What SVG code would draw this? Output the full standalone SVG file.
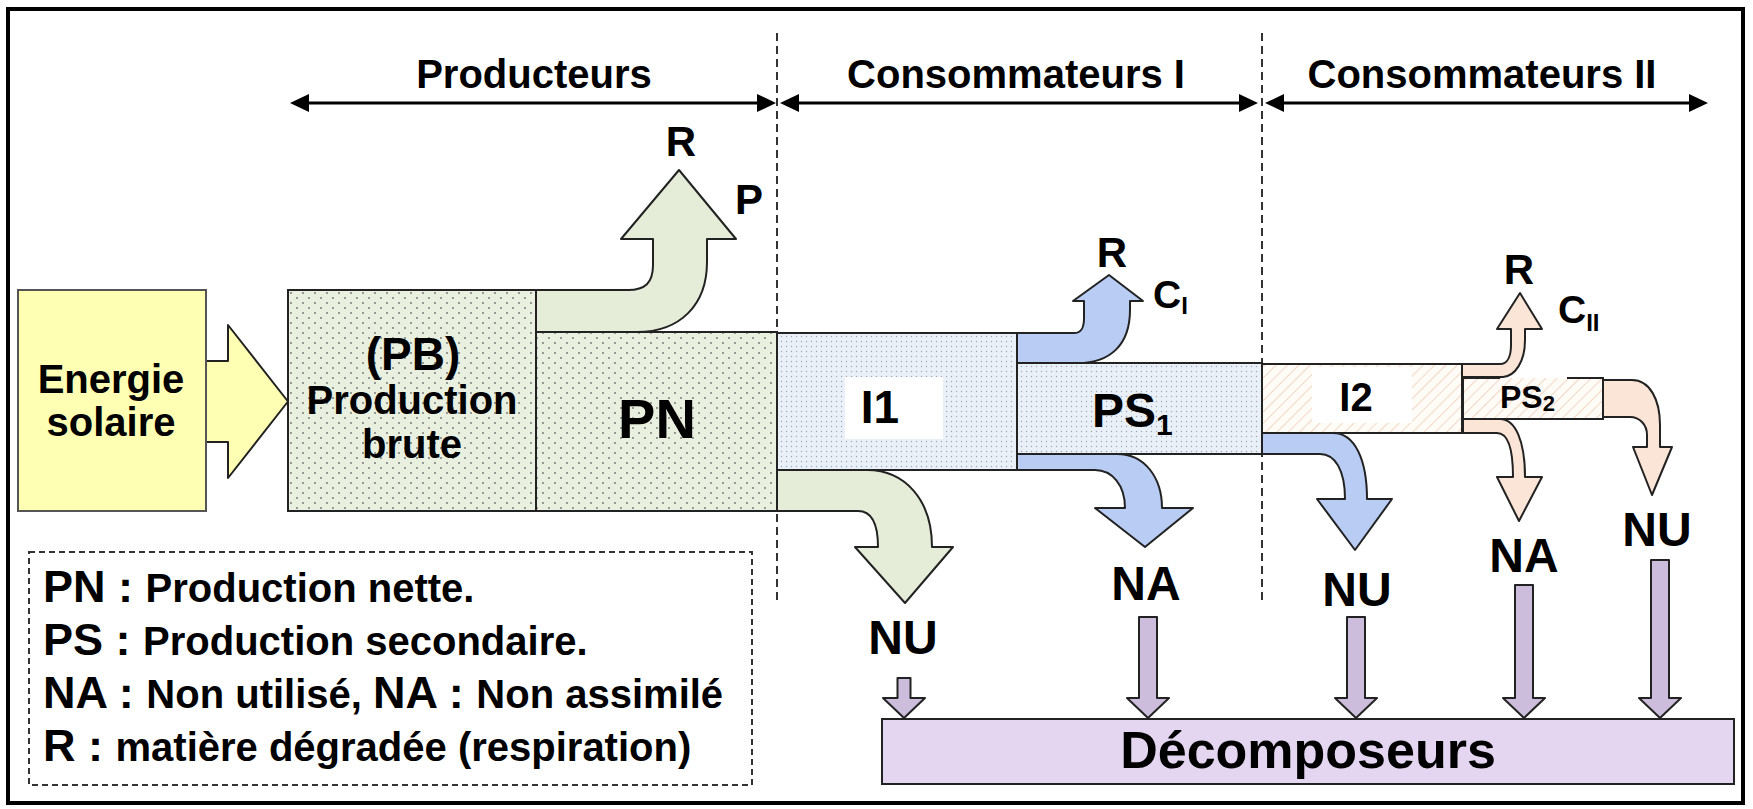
<svg xmlns="http://www.w3.org/2000/svg" width="1753" height="809" viewBox="0 0 1753 809">
<defs>
<pattern id="dotG" width="12" height="10" patternUnits="userSpaceOnUse">
<rect width="12" height="10" fill="#E9F0E0"/>
<circle cx="3" cy="3" r="0.9" fill="#6f6f6f"/>
<circle cx="9" cy="8" r="0.9" fill="#6f6f6f"/>
</pattern>
<pattern id="dotB" width="5" height="5" patternUnits="userSpaceOnUse">
<rect width="5" height="5" fill="#EAF0F8"/>
<circle cx="1.5" cy="1.5" r="0.7" fill="#9aa6b4"/>
</pattern>
<pattern id="hatch" width="8" height="8" patternUnits="userSpaceOnUse" patternTransform="rotate(45)">
<rect width="8" height="8" fill="#FFFBF7"/>
<line x1="0" y1="0" x2="0" y2="8" stroke="#F2D8C4" stroke-width="2"/>
</pattern>
</defs>
<style>
.t{font-family:"Liberation Sans",Arial,sans-serif;font-weight:bold;fill:#000}
.box{stroke:#222;stroke-width:2}
.ar{stroke:#222;stroke-width:2;stroke-linejoin:round}
.g{fill:#E5EDD8}
.b{fill:#B8CCF4}
.p{fill:#FBE5D6}
.v{fill:#CBBDDB}
.dash{stroke:#333;stroke-width:2;stroke-dasharray:8,5;fill:none}
</style>
<rect x="0" y="0" width="1753" height="809" fill="#fff"/>
<rect x="8" y="9" width="1735" height="794" fill="none" stroke="#000" stroke-width="4"/>

<g id="dividers">
<line class="dash" x1="777" y1="33" x2="777" y2="603"/>
<line class="dash" x1="1262" y1="33" x2="1262" y2="603"/>
</g>

<g id="headers">
<line x1="300" y1="103" x2="766" y2="103" stroke="#000" stroke-width="3"/>
<path d="M290,103 L309,94 L309,112 Z M776,103 L757,94 L757,112 Z" fill="#000"/>
<line x1="790" y1="103" x2="1248" y2="103" stroke="#000" stroke-width="3"/>
<path d="M780,103 L799,94 L799,112 Z M1258,103 L1239,94 L1239,112 Z" fill="#000"/>
<line x1="1275" y1="103" x2="1698" y2="103" stroke="#000" stroke-width="3"/>
<path d="M1265,103 L1284,94 L1284,112 Z M1708,103 L1689,94 L1689,112 Z" fill="#000"/>
<text class="t" x="534" y="88" font-size="40" text-anchor="middle">Producteurs</text>
<text class="t" x="1016" y="88" font-size="40" text-anchor="middle">Consommateurs I</text>
<text class="t" x="1482" y="88" font-size="40" text-anchor="middle">Consommateurs II</text>
</g>

<g id="connectors">
<path class="ar" fill="#FFFFB3" d="M206,361 H228 V325 L288,401.5 L228,478 V442 H206 Z"/>
<path class="ar g" d="M536,290 H628 C645,290 653,283 653,265 V239 H621 L679,170 L736,239 H707 V262 C707,305 680,332 637,332 H536 Z"/>
<path class="ar g" d="M777,470 H867 C905,470 932,500 932,547 H953 L905,603 L855,547 H878 C878,525 872,511 858,511 H777 Z"/>
<path class="ar b" d="M1017,333 H1074 C1082,333 1084,327 1084,318 V301 H1073 L1109,275 L1143,301 H1130 V310 C1130,345 1110,363 1078,363 H1017 Z"/>
<path class="ar b" d="M1017,454 H1117 C1145,454 1162,478 1162,508 H1193 L1145,547 L1095,508 H1125 C1125,485 1112,470 1095,470 H1017 Z"/>
<path class="ar b" d="M1262,433 H1333 C1355,433 1367,460 1367,499 H1392 L1355,550 L1317,499 H1345 C1345,470 1335,454 1320,454 H1262 Z"/>
<path class="ar p" d="M1463,419 H1500 C1515,419 1525,440 1525,477 H1542 L1519,521 L1497,477 H1513 C1513,448 1508,433 1497,433 H1463 Z"/>
<path class="ar p" d="M1603,380 H1632 C1650,380 1660,400 1660,425 V447 H1672 L1652,495 L1633,447 H1647 V435 C1647,425 1640,417 1630,417 H1603 Z"/>
<path class="ar v" d="M897.5,678 H910.5 V698 H925 L904,718 L883,698 H897.5 Z"/>
<path class="ar v" d="M1139,617 H1157 V698 H1169 L1148,718 L1127,698 H1139 Z"/>
<path class="ar v" d="M1347,617 H1365 V698 H1377 L1356,718 L1335,698 H1347 Z"/>
<path class="ar v" d="M1515,585 H1533 V698 H1545 L1524,718 L1503,698 H1515 Z"/>
<path class="ar v" d="M1651,560 H1669 V698 H1681 L1660,718 L1639,698 H1651 Z"/>
</g>

<g id="energie">
<rect x="18" y="290" width="188" height="221" fill="#FFFFB3" stroke="#555" stroke-width="2"/>
<text class="t" x="111" y="393" font-size="40" text-anchor="middle">Energie</text>
<text class="t" x="111" y="436" font-size="40" text-anchor="middle">solaire</text>
</g>

<g id="pb">
<rect class="box" x="288" y="290" width="248" height="221" fill="url(#dotG)"/>
<text class="t" x="413" y="370" font-size="46" text-anchor="middle">(PB)</text>
<text class="t" x="412" y="414" font-size="40" text-anchor="middle">Production</text>
<text class="t" x="412" y="458" font-size="40" text-anchor="middle">brute</text>
</g>

<g id="pn">
<rect class="box" x="536" y="332" width="241" height="179" fill="url(#dotG)"/>
<text class="t" x="657" y="438" font-size="56" text-anchor="middle">PN</text>
</g>

<g id="i1">
<rect class="box" x="777" y="333" width="240" height="137" fill="url(#dotB)"/>
<rect x="845" y="377" width="98" height="62" fill="#fff"/>
<text class="t" x="880" y="423" font-size="46" text-anchor="middle">I1</text>
</g>

<g id="ps1">
<rect class="box" x="1017" y="363" width="245" height="91" fill="url(#dotB)"/>
<text class="t" x="1092" y="427" font-size="48">PS<tspan font-size="30" dy="8">1</tspan></text>
</g>

<g id="i2">
<rect class="box" x="1262" y="364" width="200" height="69" fill="url(#hatch)"/>
<rect x="1312" y="367" width="100" height="56" fill="#fff"/>
<text class="t" x="1356" y="411" font-size="40" text-anchor="middle">I2</text>
</g>

<g id="ps2">
<rect x="1463" y="378" width="140" height="41" fill="url(#hatch)"/>
<path d="M1463,378 H1500 M1567,378 H1603 V419 H1463 V378" fill="none" stroke="#222" stroke-width="2"/>
<text class="t" x="1500" y="408" font-size="32">PS<tspan font-size="22" dy="3">2</tspan></text>
</g>

<g id="r-cii">
<path class="ar p" d="M1462,364 H1500 C1508,364 1511,355 1511,345 V329 H1497 L1520,293 L1542,329 H1525 V340 C1525,362 1515,376 1503,377 H1462 Z"/>
</g>

<g id="labels">
<text class="t" x="681" y="156" font-size="42" text-anchor="middle">R</text>
<text class="t" x="735" y="214" font-size="42">P</text>
<text class="t" x="1112" y="267" font-size="42" text-anchor="middle">R</text>
<text class="t" x="1153" y="308" font-size="39">C<tspan font-size="24" dy="6">I</tspan></text>
<text class="t" x="1519" y="284" font-size="42" text-anchor="middle">R</text>
<text class="t" x="1558" y="323" font-size="39">C<tspan font-size="24" dy="8">II</tspan></text>
<text class="t" x="903" y="654" font-size="48" text-anchor="middle">NU</text>
<text class="t" x="1146" y="600" font-size="48" text-anchor="middle">NA</text>
<text class="t" x="1357" y="606" font-size="48" text-anchor="middle">NU</text>
<text class="t" x="1524" y="572" font-size="48" text-anchor="middle">NA</text>
<text class="t" x="1657" y="546" font-size="48" text-anchor="middle">NU</text>
</g>

<g id="decomposeurs">
<rect class="box" x="882" y="719" width="852" height="65" fill="#E4D5F0"/>
<text class="t" x="1308" y="768" font-size="52" text-anchor="middle">Décomposeurs</text>
</g>

<g id="legend">
<rect x="29" y="552" width="723" height="233" fill="none" stroke="#333" stroke-width="2" stroke-dasharray="6,4"/>
<text class="t" x="43" y="602" font-size="45">PN : <tspan font-size="40">Production nette.</tspan></text>
<text class="t" x="43" y="655" font-size="45">PS : <tspan font-size="40">Production secondaire.</tspan></text>
<text class="t" x="43" y="708" font-size="45">NA : <tspan font-size="40">Non utilisé, </tspan>NA : <tspan font-size="40">Non assimilé</tspan></text>
<text class="t" x="43" y="761" font-size="45">R : <tspan font-size="40">matière dégradée (respiration)</tspan></text>
</g>
</svg>
